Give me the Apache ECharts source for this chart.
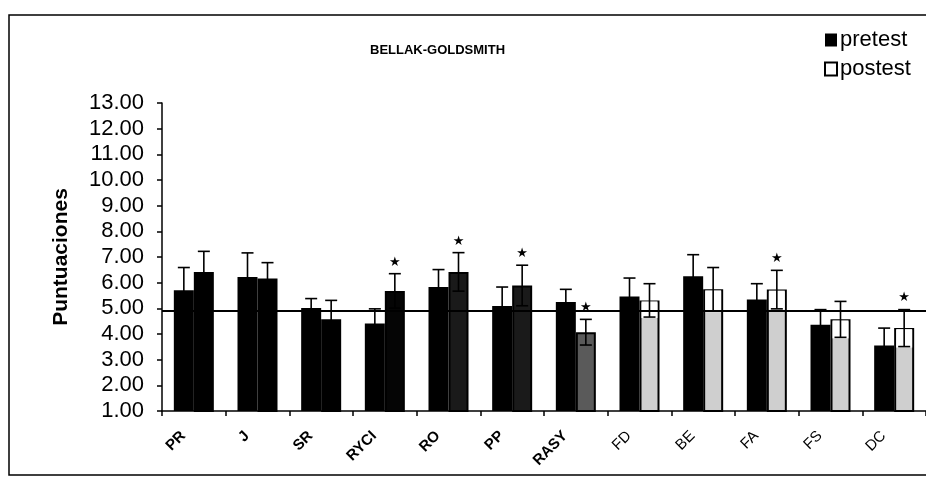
<!DOCTYPE html>
<html>
<head>
<meta charset="utf-8">
<script src="https://cdn.jsdelivr.net/npm/echarts@6/dist/echarts.min.js"></script>
<style>
  html, body { margin: 0; padding: 0; background: #fff; }
  #container { width: 926px; height: 479px; }
</style>
</head>
<body>
<div id="container"></div>
<script>
// valores
var categories = ['PR', 'J', 'SR', 'RYCI', 'RO', 'PP', 'RASY', 'FD', 'BE', 'FA', 'FS', 'DC'];
var pretest    = [5.70, 6.22, 5.01, 4.41, 5.83, 5.09, 5.25, 5.46, 6.25, 5.34, 4.36, 3.55];
var pretestErr = [6.59, 7.16, 5.38, 4.98, 6.51, 5.83, 5.74, 6.18, 7.09, 5.96, 4.95, 4.23];
var postest    = [6.42, 6.16, 4.57, 5.68, 6.42, 5.89, 4.07, 5.31, 5.74, 5.73, 4.57, 4.23];
var postestErr = [7.22, 6.78, 5.31, 6.35, 7.17, 6.68, 4.57, 5.96, 6.59, 6.48, 5.27, 4.95];
var significant = ['RYCI', 'RO', 'PP', 'RASY', 'FA', 'DC'];
var meanLine = 4.9;
var yTicks = { min: 1, max: 13, interval: 1 };

// relleno de las barras postest (escaneado: negro, punteado, gris claro)
var postFill = ['#000', '#000', '#000', '#050505', '#1a1a1a', '#1a1a1a', '#5a5a5a',
                '#cfcfcf', '#cfcfcf', '#cfcfcf', '#cfcfcf', '#cfcfcf'];
var BAR_W = 20;
var FONT = 'Liberation Sans, Arial, sans-serif';

var postData = [];
for (var i = 0; i < postest.length; i++) {
  postData.push({
    value: postest[i],
    itemStyle: { color: postFill[i], borderColor: '#000', borderWidth: 2 }
  });
}

var errData = [];
for (var i = 0; i < categories.length; i++) {
  errData.push([i, pretest[i], pretestErr[i], 0, 0]);
  errData.push([i, postest[i], postestErr[i], 1, significant.indexOf(categories[i]) >= 0 ? 1 : 0]);
}

function renderErr(params, api) {
  var idx = api.value(0), v = api.value(1), e = api.value(2), side = api.value(3), star = api.value(4);
  var top = api.coord([idx, e]);
  var mid = api.coord([idx, v]);
  var low = api.coord([idx, v - (e - v)]);
  var x = top[0] + (side === 0 ? -BAR_W / 2 : BAR_W / 2);
  var children = [];
  var light = side === 1 && postFill[idx] === '#cfcfcf';
  if (light) {
    children.push({ type: 'rect', shape: { x: x - BAR_W / 2 + 2, y: mid[1] + 1, width: BAR_W - 4, height: low[1] - mid[1] },
      style: { fill: '#fff' } });
  }
  var stroke = { stroke: '#000', lineWidth: 1.6 };
  children.push({ type: 'line', shape: { x1: x, y1: top[1], x2: x, y2: low[1] }, style: stroke });
  children.push({ type: 'line', shape: { x1: x - 6, y1: top[1], x2: x + 6, y2: top[1] }, style: stroke });
  children.push({ type: 'line', shape: { x1: x - 6, y1: low[1], x2: x + 6, y2: low[1] }, style: stroke });
  if (star) {
    children.push({ type: 'text', x: x, y: top[1] - 5,
      style: { text: '★', fill: '#000', font: '13px DejaVu Sans', align: 'center', verticalAlign: 'bottom' } });
  }
  return { type: 'group', children: children };
}

var option = {
  backgroundColor: '#fff',
  animation: false,
  title: {
    text: 'BELLAK-GOLDSMITH',
    left: 365,
    top: 39,
    textStyle: { fontFamily: FONT, fontSize: 13, fontWeight: 'bold', color: '#000' }
  },
  legend: {
    orient: 'vertical',
    left: 819,
    top: 24,
    itemWidth: 12,
    itemHeight: 13,
    itemGap: 7,
    icon: 'rect',
    data: ['pretest', 'postest'],
    textStyle: { fontFamily: FONT, fontSize: 22, color: '#000', padding: [0, 0, 0, -2] }
  },
  grid: { left: 162, right: 0, top: 103, bottom: 68 },
  xAxis: {
    type: 'category',
    data: categories,
    axisLine: { lineStyle: { color: '#000', width: 1.5 } },
    axisTick: { show: true, length: 5, lineStyle: { color: '#000', width: 1.5 } },
    axisLabel: {
      interval: 0,
      rotate: 45,
      margin: 12,
      color: '#000',
      formatter: function (v, i) { return i < 7 ? '{b|' + v + '}' : '{n|' + v + '}'; },
      rich: {
        b: { fontFamily: FONT, fontSize: 15, fontWeight: 'bold', color: '#000', padding: [0, 15, 0, 0] },
        n: { fontFamily: FONT, fontSize: 15, color: '#000', padding: [0, 15, 0, 0] }
      }
    }
  },
  yAxis: {
    type: 'value',
    min: yTicks.min,
    max: yTicks.max,
    interval: yTicks.interval,
    name: 'Puntuaciones',
    nameLocation: 'middle',
    nameGap: 90,
    nameTextStyle: { fontFamily: FONT, fontSize: 21, fontWeight: 'bold', color: '#000' },
    axisLine: { show: true, lineStyle: { color: '#000', width: 1.5 } },
    axisTick: { show: true, length: 5, lineStyle: { color: '#000', width: 1.5 } },
    splitLine: { show: false },
    axisLabel: {
      margin: 18,
      fontFamily: FONT,
      fontSize: 22,
      color: '#000',
      formatter: function (v) { return v.toFixed(2); }
    }
  },
  graphic: [{
    type: 'rect',
    shape: { x: 9, y: 15, width: 1000, height: 460 },
    style: { fill: 'none', stroke: '#000', lineWidth: 1.5 },
    z: 0
  }],
  series: [
    {
      name: 'media',
      type: 'line',
      data: [],
      z: 1,
      markLine: {
        silent: true,
        symbol: 'none',
        label: { show: false },
        lineStyle: { color: '#000', type: 'solid', width: 2 },
        data: [{ yAxis: meanLine }]
      }
    },
    {
      name: 'pretest',
      type: 'bar',
      data: pretest,
      barWidth: BAR_W,
      barGap: '0%',
      z: 2,
      itemStyle: { color: '#000' }
    },
    {
      name: 'postest',
      type: 'bar',
      data: postData,
      barWidth: BAR_W,
      barGap: '0%',
      z: 2,
      itemStyle: { color: '#fff', borderColor: '#000', borderWidth: 2 }
    },
    {
      name: 'error',
      type: 'custom',
      data: errData,
      z: 3,
      renderItem: renderErr,
      encode: { x: 0, y: 2 }
    }
  ]
};

var myChart = echarts.init(document.getElementById('container'));
myChart.setOption(option);
</script>
</body>
</html>
